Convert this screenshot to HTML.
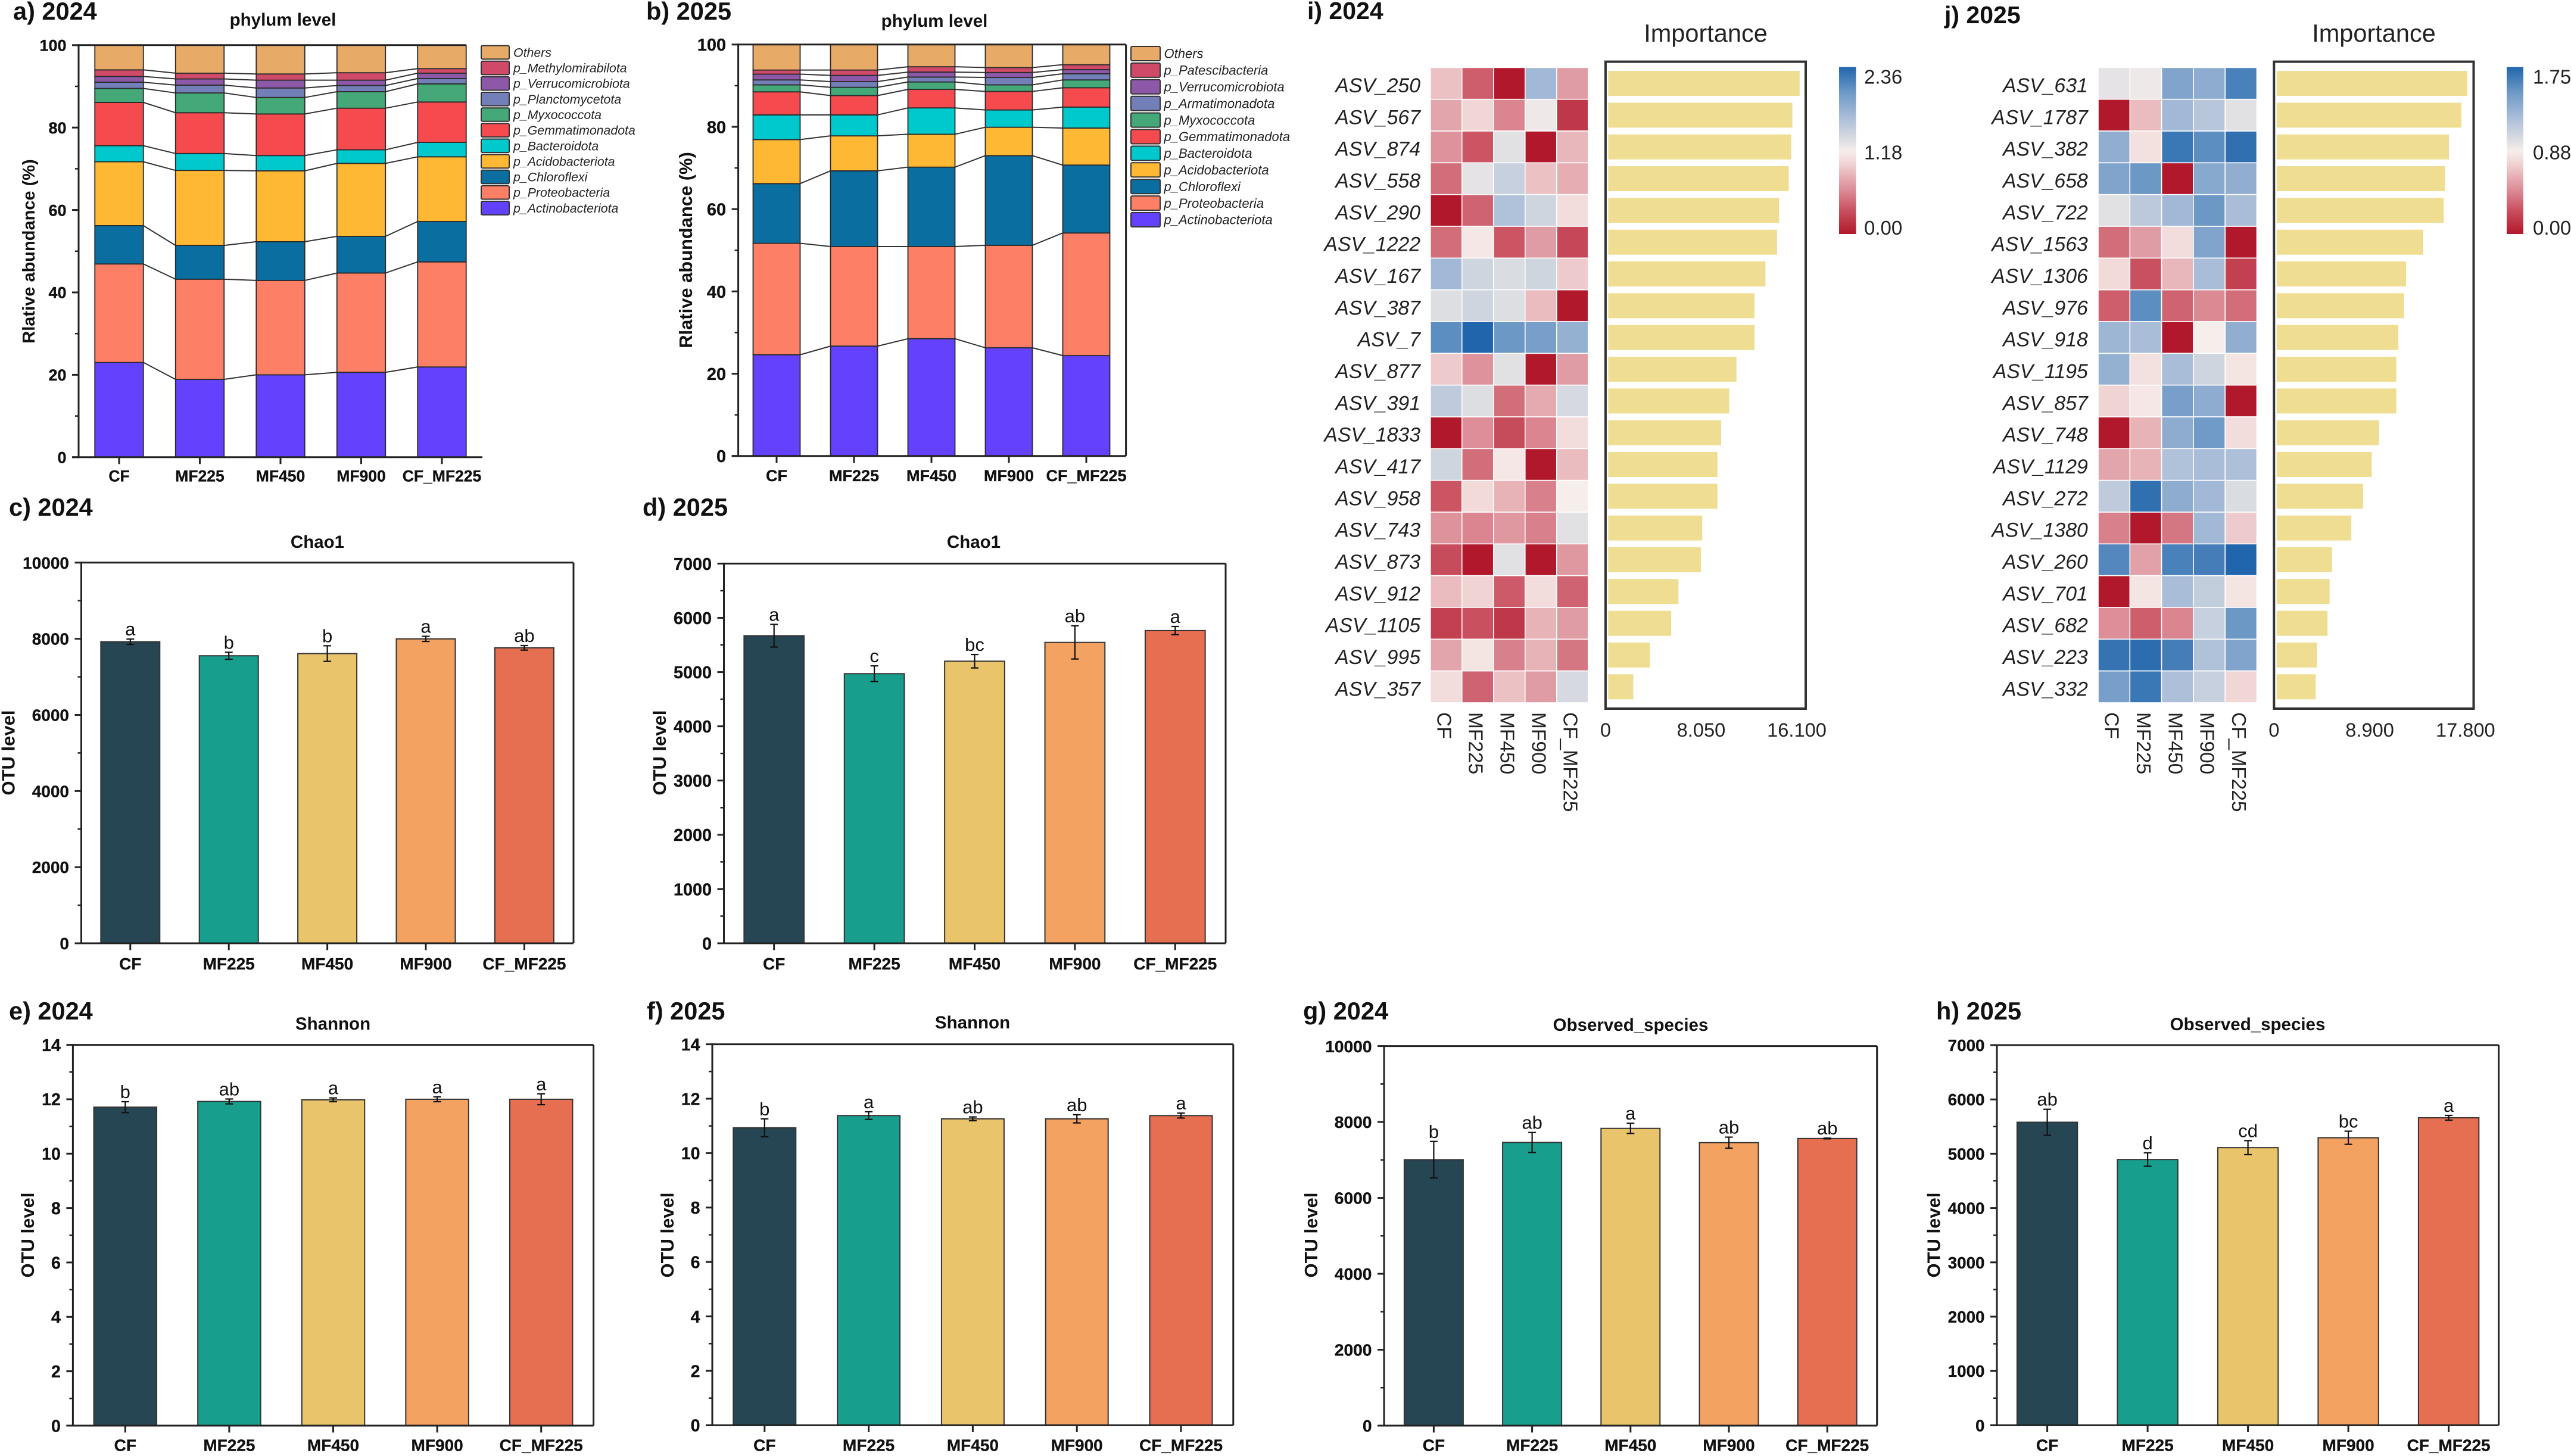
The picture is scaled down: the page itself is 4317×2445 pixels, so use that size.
<!DOCTYPE html>
<html lang="en">
<head>
<meta charset="utf-8">
<title>Soil bacterial community composition, diversity and feature importance, 2024 and 2025</title>
<style>
html,body{margin:0;padding:0;background:#fff;}
svg{display:block;font-family:"Liberation Sans",sans-serif;}
.pl{font-weight:700;font-size:41.5px;fill:#111;}
.tt{font-weight:700;font-size:29.5px;fill:#111;text-anchor:middle;}
.yl{font-weight:700;fill:#111;text-anchor:middle;}
.imp{font-size:41.5px;fill:#222;text-anchor:middle;}
</style>
</head>
<body>
<svg id="figure" width="4317" height="2445" viewBox="0 0 4317 2445" xmlns="http://www.w3.org/2000/svg">
  <rect width="4317" height="2445" fill="#fff"/>
  <text class="pl" x="22" y="33">a) 2024</text>
  <text class="pl" x="1085" y="33">b) 2025</text>
  <text class="pl" x="15" y="866">c) 2024</text>
  <text class="pl" x="1079" y="866">d) 2025</text>
  <text class="pl" x="15" y="1712">e) 2024</text>
  <text class="pl" x="1086" y="1712">f) 2025</text>
  <text class="pl" x="2188" y="1712">g) 2024</text>
  <text class="pl" x="3251" y="1712">h) 2025</text>
  <text class="pl" x="2195" y="32" style="font-size:41px">i) 2024</text>
  <text class="pl" x="3265" y="39" style="font-size:41px">j) 2025</text>

  <text class="tt" x="475" y="43">phylum level</text>
  <text class="tt" x="1569" y="45">phylum level</text>
  <text class="tt" x="533" y="920">Chao1</text>
  <text class="tt" x="1635" y="920">Chao1</text>
  <text class="tt" x="559" y="1729">Shannon</text>
  <text class="tt" x="1633" y="1727">Shannon</text>
  <text class="tt" x="2738" y="1731">Observed_species</text>
  <text class="tt" x="3774" y="1730">Observed_species</text>
  <text class="imp" x="2864" y="70">Importance</text>
  <text class="imp" x="3986" y="70">Importance</text>

  <text class="yl" transform="translate(58,422) rotate(-90)" style="font-size:29px">Rlative abundance (%)</text>
  <text class="yl" transform="translate(1162,420) rotate(-90)" style="font-size:30.9px">Rlative abundance (%)</text>
  <text class="yl" transform="translate(24.5,1264) rotate(-90)" style="font-size:31px">OTU level</text>
  <text class="yl" transform="translate(1118,1264) rotate(-90)" style="font-size:31px">OTU level</text>
  <text class="yl" transform="translate(57,2074) rotate(-90)" style="font-size:31px">OTU level</text>
  <text class="yl" transform="translate(1131,2074) rotate(-90)" style="font-size:31px">OTU level</text>
  <text class="yl" transform="translate(2212,2074) rotate(-90)" style="font-size:31px">OTU level</text>
  <text class="yl" transform="translate(3257.5,2074) rotate(-90)" style="font-size:31px">OTU level</text>
</svg>

<script>
/* ---------- shared categories ---------- */
const categories = ['CF', 'MF225', 'MF450', 'MF900', 'CF_MF225'];

/* ---------- panel a: phylum stack 2024 (%) ---------- */
const phylaA = ['p_Actinobacteriota','p_Proteobacteria','p_Chloroflexi','p_Acidobacteriota','p_Bacteroidota','p_Gemmatimonadota','p_Myxococcota','p_Planctomycetota','p_Verrucomicrobiota','p_Methylomirabilota','Others'];
const actinoA = [23.0, 18.9, 20.0, 20.6, 21.9];
const proteoA = [23.9, 24.3, 22.9, 24.1, 25.5];
const chloroA = [9.3, 8.2, 9.4, 8.9, 9.8];
const acidoA  = [15.5, 18.2, 17.2, 17.7, 15.7];
const bacterA = [3.9, 4.1, 3.7, 3.3, 3.5];
const gemmaA  = [10.5, 9.9, 10.1, 10.1, 9.8];
const myxoA   = [3.4, 4.8, 4.0, 4.0, 4.4];
const planctA = [1.5, 1.9, 2.3, 1.5, 1.3];
const verruA  = [1.4, 1.5, 1.9, 1.3, 1.3];
const methyA  = [1.6, 1.4, 1.5, 1.8, 1.1];
const othersA = [6.0, 6.8, 7.0, 6.7, 5.7];

/* ---------- panel b: phylum stack 2025 (%) ---------- */
const phylaB = ['p_Actinobacteriota','p_Proteobacteria','p_Chloroflexi','p_Acidobacteriota','p_Bacteroidota','p_Gemmatimonadota','p_Myxococcota','p_Armatimonadota','p_Verrucomicrobiota','p_Patescibacteria','Others'];
const actinoB = [24.6, 26.7, 28.5, 26.3, 24.4];
const proteoB = [27.1, 24.2, 22.4, 24.9, 29.8];
const chloroB = [14.5, 18.4, 19.3, 21.8, 16.5];
const acidoB  = [10.7, 8.5, 8.0, 6.9, 9.0];
const bacterB = [6.0, 5.1, 6.4, 4.2, 5.1];
const gemmaB  = [5.6, 4.7, 4.5, 4.5, 4.7];
const myxoB   = [1.7, 2.0, 1.8, 1.6, 1.9];
const armatB  = [1.2, 1.4, 1.2, 1.8, 1.5];
const verruB  = [1.4, 1.5, 1.2, 1.2, 1.0];
const patesB  = [1.0, 1.3, 1.3, 1.2, 1.2];
const othersB = [6.2, 6.2, 5.4, 5.6, 4.9];
const stackTicks = [0, 20, 40, 60, 80, 100];

/* ---------- panels c-h: alpha diversity bars ---------- */
const chaoATicks = [0, 2000, 4000, 6000, 8000, 10000];
const chaoAValues = [7921, 7553, 7611, 7997, 7762];
const chaoAErrors = [70, 92, 205, 67, 60];
const chaoALetters = ['a', 'b', 'b', 'a', 'ab'];

const chaoBTicks = [0, 1000, 2000, 3000, 4000, 5000, 6000, 7000];
const chaoBValues = [5670, 4970, 5200, 5547, 5765];
const chaoBErrors = [209, 144, 124, 306, 76];
const chaoBLetters = ['a', 'c', 'bc', 'ab', 'a'];

const shannonATicks = [0, 2, 4, 6, 8, 10, 12, 14];
const shannonAValues = [11.71, 11.92, 11.98, 12.0, 12.0];
const shannonAErrors = [0.2, 0.09, 0.07, 0.09, 0.2];
const shannonALetters = ['b', 'ab', 'a', 'a', 'a'];

const shannonBTicks = [0, 2, 4, 6, 8, 10, 12, 14];
const shannonBValues = [10.93, 11.38, 11.26, 11.26, 11.38];
const shannonBErrors = [0.33, 0.14, 0.07, 0.15, 0.09];
const shannonBLetters = ['b', 'a', 'ab', 'ab', 'a'];

const observedATicks = [0, 2000, 4000, 6000, 8000, 10000];
const observedAValues = [7007, 7460, 7832, 7455, 7565];
const observedAErrors = [480, 263, 134, 145, 10];
const observedALetters = ['b', 'ab', 'a', 'ab', 'ab'];

const observedBTicks = [0, 1000, 2000, 3000, 4000, 5000, 6000, 7000];
const observedBValues = [5580, 4893, 5112, 5294, 5662];
const observedBErrors = [239, 124, 129, 121, 44];
const observedBLetters = ['ab', 'd', 'cd', 'bc', 'a'];

/* ---------- panel i: heatmap + importance 2024 ---------- */
const asvI = ['ASV_250','ASV_567','ASV_874','ASV_558','ASV_290','ASV_1222','ASV_167','ASV_387','ASV_7','ASV_877','ASV_391','ASV_1833','ASV_417','ASV_958','ASV_743','ASV_873','ASV_912','ASV_1105','ASV_995','ASV_357'];
const importanceI = [16.34, 15.73, 15.63, 15.42, 14.61, 14.44, 13.46, 12.54, 12.54, 11.02, 10.41, 9.73, 9.42, 9.42, 8.14, 8.03, 6.14, 5.53, 3.73, 2.34];
const importanceTicksI = [0, 8.05, 16.1];
const importanceTickLabelsI = ['0', '8.050', '16.100'];
const colourTickLabelsI = ['0.00', '1.18', '2.36'];
/* each cell: position on the colour bar, 0 = bottom label, 1 = top label */
const heatI = [
  [.38,.17,.00,.72,.30],
  [.32,.43,.25,.52,.08],
  [.28,.15,.55,.00,.36],
  [.20,.54,.62,.38,.34],
  [.00,.18,.68,.60,.45],
  [.20,.48,.15,.30,.12],
  [.72,.60,.57,.60,.40],
  [.56,.60,.56,.37,.00],
  [.88,1.0,.85,.82,.75],
  [.40,.28,.55,.00,.30],
  [.64,.56,.20,.33,.58],
  [.00,.27,.13,.25,.45],
  [.60,.20,.48,.00,.37],
  [.15,.44,.35,.24,.50],
  [.28,.25,.29,.24,.55],
  [.13,.00,.55,.00,.29],
  [.37,.42,.16,.45,.18],
  [.10,.14,.08,.35,.30],
  [.32,.47,.24,.35,.22],
  [.45,.18,.38,.30,.58]
];

/* ---------- panel j: heatmap + importance 2025 ---------- */
const asvJ = ['ASV_631','ASV_1787','ASV_382','ASV_658','ASV_722','ASV_1563','ASV_1306','ASV_976','ASV_918','ASV_1195','ASV_857','ASV_748','ASV_1129','ASV_272','ASV_1380','ASV_260','ASV_701','ASV_682','ASV_223','ASV_332'];
const importanceJ = [17.98, 17.41, 16.27, 15.89, 15.78, 13.88, 12.28, 12.09, 11.56, 11.37, 11.37, 9.77, 9.09, 8.29, 7.19, 5.40, 5.17, 4.98, 3.99, 3.88];
const importanceTicksJ = [0, 8.9, 17.8];
const importanceTickLabelsJ = ['0', '8.900', '17.800'];
const colourTickLabelsJ = ['0.00', '0.88', '1.75'];
const heatJ = [
  [.54,.52,.80,.77,.92],
  [.00,.37,.72,.66,.55],
  [.76,.46,.95,.88,.97],
  [.80,.85,.00,.78,.76],
  [.55,.65,.72,.85,.70],
  [.20,.30,.45,.80,.00],
  [.44,.14,.36,.70,.10],
  [.17,.88,.18,.26,.20],
  [.73,.70,.00,.50,.76],
  [.75,.46,.70,.60,.47],
  [.42,.48,.82,.77,.00],
  [.00,.35,.77,.84,.45],
  [.32,.35,.68,.70,.69],
  [.64,.97,.77,.72,.57],
  [.24,.00,.22,.72,.40],
  [.90,.31,.92,.93,1.0],
  [.00,.47,.70,.63,.47],
  [.27,.17,.25,.62,.85],
  [.96,.98,.93,.68,.80],
  [.82,.95,.69,.62,.43]
];

/* ---------- styling ---------- */
const stackColours = ['#6441FC','#FD7F66','#0A6EA1','#FFB833','#00C9CE','#F64B4E','#45A878','#737FB8','#8D58A8','#CE4A68','#E8AA67'];
const barColours = ['#264653','#189E8D','#E9C46A','#F4A261','#E76F51'];
const heatStops = [[0,'#B2182B'],[.14,'#C9505F'],[.25,'#DA8590'],[.42,'#F0D3D3'],[.5,'#F6EEEB'],[.56,'#DDDEE2'],[.7,'#A9BDD8'],[.85,'#6C98C6'],[1,'#2166AC']];

const NS = 'http://www.w3.org/2000/svg';
const figure = document.getElementById('figure');

function node(tag, attrs, parent) {
  const el = document.createElementNS(NS, tag);
  for (const k in attrs) el.setAttribute(k, attrs[k]);
  (parent || figure).appendChild(el);
  return el;
}
function label(parent, name, str, x, y, size, opts) {
  const o = opts || {};
  const el = node('text', {
    x: x, y: y,
    'font-size': size,
    'font-weight': o.weight || 400,
    'font-style': o.italic ? 'italic' : 'normal',
    'text-anchor': o.anchor || 'middle',
    fill: o.fill || '#111'
  }, parent);
  if (o.transform) el.setAttribute('transform', o.transform);
  if (o.weight === 700) {
    el.setAttribute('stroke', '#111');
    el.setAttribute('stroke-width', '0.35');
  }
  
  
  el.textContent = str;
  return el;
}
function line(parent, name, x1, y1, x2, y2, width, colour) {
  const el = node('line', {x1: x1, y1: y1, x2: x2, y2: y2, stroke: colour || '#222', 'stroke-width': width || 3}, parent);
  
  
  return el;
}
function group(name) {
  const g = node('g', {});
  
  
  return g;
}
function linear(d0, d1, r0, r1) {
  return v => r0 + (v - d0) / (d1 - d0) * (r1 - r0);
}
function hexToRgb(h) {
  return [1, 3, 5].map(i => parseInt(h.substr(i, 2), 16));
}
function heatColour(t) {
  const v = Math.max(0, Math.min(1, t));
  for (let i = 1; i < heatStops.length; i++) {
    if (v <= heatStops[i][0]) {
      const a = heatStops[i - 1], b = heatStops[i];
      const f = (v - a[0]) / (b[0] - a[0]);
      const ca = hexToRgb(a[1]), cb = hexToRgb(b[1]);
      return 'rgb(' + ca.map((c, j) => Math.round(c + (cb[j] - c) * f)).join(',') + ')';
    }
  }
  return heatStops[heatStops.length - 1][1];
}

/* axes shared by the stack and bar panels */
function drawAxes(g, L, ticks, y) {
  const id = L.id;
  ticks.forEach((t, i) => {
    const py = y(t);
    line(g, 'y-tick-' + id + '-' + t, L.left - 11, py, L.left, py, 3);
    label(g, 'y-tick-label-' + id + '-' + t, String(t), L.left - 20.5, py + L.tickSize * 0.36, L.tickSize, {weight: 700, anchor: 'end'});
    if (i < ticks.length - 1) {
      const my = y((t + ticks[i + 1]) / 2);
      line(g, 'y-minor-tick-' + id + '-' + i, L.left - 6, my, L.left, my, 2.5);
    }
  });
  categories.forEach((c, i) => {
    const cx = L.c0 + i * L.step;
    line(g, 'x-tick-' + id + '-' + c, cx, L.bottom, cx, L.bottom + 11.5, 3);
    label(g, 'x-tick-label-' + id + '-' + c, c, cx, L.labelY, L.xSize, {weight: 700});
  });
  line(g, 'y-axis-' + id, L.left, L.top - 1.5, L.left, L.bottom + 1.5, 3);
  line(g, 'x-axis-' + id, L.left - 11, L.bottom, L.right, L.bottom, 3);
  line(g, 'top-border-' + id, L.left, L.top, L.topEnd || L.right, L.top, 3);
  if (!L.noRight) line(g, 'right-border-' + id, L.right, L.top, L.right, L.bottom, 3);
}

function drawStack(L, names, series) {
  const g = group('stacked-chart-' + L.id);
  const y = linear(0, 100, L.bottom, L.top);
  const cum = categories.map(() => 0);
  series.forEach((vals, s) => {
    const tops = [];
    vals.forEach((v, i) => {
      const y0 = y(cum[i]);
      cum[i] += v;
      const y1 = y(cum[i]);
      tops.push(y1);
      const x = L.c0 + i * L.step - L.barW / 2;
      const r = node('rect', {x: x, y: y1, width: L.barW, height: y0 - y1, fill: stackColours[s], stroke: '#2a2a2a', 'stroke-width': 1.8}, g);
      
      
    });
    if (s < series.length - 1) {
      for (let i = 0; i < tops.length - 1; i++) {
        const xa = L.c0 + i * L.step + L.barW / 2;
        const xb = L.c0 + (i + 1) * L.step - L.barW / 2;
        line(g, 'connector-' + L.id + '-' + names[s] + '-' + i, xa, tops[i], xb, tops[i + 1], 2, '#333');
      }
    }
  });
  drawAxes(g, L, stackTicks, y);
  const leg = node('g', {}, g);
  
  
  for (let s = names.length - 1, row = 0; s >= 0; s--, row++) {
    const cy = L.legY + row * L.legStep;
    const sw = node('rect', {x: L.legX, y: cy - L.legH / 2, width: L.legW, height: L.legH, rx: 2, fill: stackColours[s], stroke: '#333', 'stroke-width': 2}, leg);
    
    
    label(leg, 'legend-entry-' + names[s], names[s], L.legTextX, cy + L.legSize * 0.35, L.legSize, {italic: true, anchor: 'start', fill: '#222'});
  }
}

function drawBars(L, ticks, values, errors, letters) {
  const g = group('bar-chart-' + L.id);
  const y = linear(0, ticks[ticks.length - 1], L.bottom, L.top);
  values.forEach((v, i) => {
    const cx = L.c0 + i * L.step;
    const r = node('rect', {x: cx - L.barW / 2, y: y(v), width: L.barW, height: L.bottom - y(v), fill: barColours[i], stroke: '#333', 'stroke-width': 2}, g);
    
    
    const hi = y(v + errors[i]), lo = y(v - errors[i]);
    line(g, 'error-bar-' + L.id + '-' + categories[i], cx, hi, cx, lo, 2.2, '#111');
    line(g, 'error-cap-top-' + L.id + '-' + categories[i], cx - 6.5, hi, cx + 6.5, hi, 2.2, '#111');
    line(g, 'error-cap-bottom-' + L.id + '-' + categories[i], cx - 6.5, lo, cx + 6.5, lo, 2.2, '#111');
    label(g, 'significance-letter-' + L.id + '-' + categories[i], letters[i], cx, hi - 6, 31);
  });
  drawAxes(g, L, ticks, y);
}

function drawHeat(L, rows, matrix, importance, impTicks, impTickLabels, colourLabels) {
  const g = group('heatmap-panel-' + L.id);
  const cw = (L.heatRight - L.heatLeft) / categories.length;
  const rh = (L.heatBottom - L.heatTop) / rows.length;
  const xImp = linear(0, impTicks[impTicks.length - 1], L.impX0, L.impX1);
  rows.forEach((asv, r) => {
    const cy = L.heatTop + (r + 0.5) * rh;
    label(g, 'row-label-' + asv, asv, L.rowLabelX, cy + 15, 33.8, {italic: true, anchor: 'end', fill: '#222'});
    matrix[r].forEach((v, c) => {
      const cell = node('rect', {x: L.heatLeft + c * cw, y: L.heatTop + r * rh, width: cw, height: rh, fill: heatColour(v), stroke: '#fff', 'stroke-width': 1.6}, g);
      
      
    });
    const bar = node('rect', {x: L.impX0 + 4.5, y: cy - 21, width: xImp(importance[r]) - L.impX0 - 4.5, height: 42, fill: '#EFDD92'}, g);
    
    
  });
  categories.forEach((c, i) => {
    const cx = L.heatLeft + (i + 0.5) * cw - 4;
    label(g, 'column-label-' + L.id + '-' + c, c, 0, 0, 33.5, {anchor: 'start', fill: '#222', transform: 'translate(' + (cx - 11) + ',1196) rotate(90)'});
  });
  const frame = node('rect', {x: L.impX0, y: 103.6, width: L.frameRight - L.impX0, height: 1086.4, fill: 'none', stroke: '#333', 'stroke-width': 4}, g);
  
  
  impTicks.forEach((t, i) => {
    label(g, 'importance-tick-label-' + L.id + '-' + i, impTickLabels[i], xImp(t), 1237, 32.6, {fill: '#222'});
  });
  /* colour bar */
  const defs = node('defs', {}, g);
  const grad = node('linearGradient', {id: 'cbar-' + L.id, x1: 0, y1: 1, x2: 0, y2: 0}, defs);
  heatStops.forEach(s => node('stop', {offset: s[0], 'stop-color': s[1]}, grad));
  const cb = node('rect', {x: L.cbX, y: 112.5, width: L.cbW, height: 280.5, fill: 'url(#cbar-' + L.id + ')'}, g);
  
  
  const yCb = linear(0, colourLabels.length - 1, 382, 128.6);
  colourLabels.forEach((t, i) => {
    label(g, 'colour-bar-label-' + L.id + '-' + t, t, L.cbLabelX, yCb(i) + 12, 33, {anchor: 'start', fill: '#222'});
  });
}

/* ---------- layouts (pixel geometry only) ---------- */
const layoutA = {id:'a', left:132, right:810, top:75.8, bottom:767.8, topEnd:782, noRight:true, c0:200, step:135.5, barW:81.5, tickSize:27, xSize:26.5, labelY:808.5, legX:808, legW:47, legH:22.6, legY:87.9, legStep:26.15, legTextX:862, legSize:21.3};
const layoutB = {id:'b', left:1239.6, right:1890.6, top:74.8, bottom:765.7, c0:1304, step:130, barW:79, tickSize:29, xSize:27, labelY:808, legX:1899, legW:49, legH:24, legY:90, legStep:27.9, legTextX:1954.5, legSize:22};
const layoutC = {id:'c', left:136.5, right:963, top:944.8, bottom:1584, c0:218.8, step:165.4, barW:99, tickSize:28, xSize:28, labelY:1628};
const layoutD = {id:'d', left:1215.5, right:2058, top:946.4, bottom:1584, c0:1299.7, step:168.4, barW:100.7, tickSize:28.8, xSize:28, labelY:1628};
const layoutE = {id:'e', left:122.4, right:996.6, top:1754.6, bottom:2394, c0:210.3, step:174.6, barW:105.5, tickSize:28.6, xSize:28, labelY:2436.5};
const layoutF = {id:'f', left:1196, right:2070.8, top:1753.6, bottom:2393.4, c0:1283.8, step:174.8, barW:105, tickSize:28.6, xSize:28, labelY:2436.5};
const layoutG = {id:'g', left:2324, right:3151.7, top:1756.6, bottom:2394, c0:2407.4, step:165.2, barW:99, tickSize:28.2, xSize:28, labelY:2436.5};
const layoutH = {id:'h', left:3353, right:4195.6, top:1755, bottom:2393.4, c0:3437.6, step:168.5, barW:101.4, tickSize:27.8, xSize:28, labelY:2436.5};
const layoutI = {id:'i', heatLeft:2401.8, heatRight:2666.8, heatTop:113.4, heatBottom:1180, rowLabelX:2385, impX0:2695.9, impX1:3017, frameRight:3032, cbX:3088, cbW:28.5, cbLabelX:3130};
const layoutJ = {id:'j', heatLeft:3523, heatRight:3789.5, heatTop:113.4, heatBottom:1180, rowLabelX:3505.8, impX0:3818.3, impX1:4139.8, frameRight:4153.5, cbX:4209, cbW:28, cbLabelX:4253};

/* ---------- draw ---------- */
drawStack(layoutA, phylaA, [actinoA, proteoA, chloroA, acidoA, bacterA, gemmaA, myxoA, planctA, verruA, methyA, othersA]);
drawStack(layoutB, phylaB, [actinoB, proteoB, chloroB, acidoB, bacterB, gemmaB, myxoB, armatB, verruB, patesB, othersB]);
drawBars(layoutC, chaoATicks, chaoAValues, chaoAErrors, chaoALetters);
drawBars(layoutD, chaoBTicks, chaoBValues, chaoBErrors, chaoBLetters);
drawBars(layoutE, shannonATicks, shannonAValues, shannonAErrors, shannonALetters);
drawBars(layoutF, shannonBTicks, shannonBValues, shannonBErrors, shannonBLetters);
drawBars(layoutG, observedATicks, observedAValues, observedAErrors, observedALetters);
drawBars(layoutH, observedBTicks, observedBValues, observedBErrors, observedBLetters);
drawHeat(layoutI, asvI, heatI, importanceI, importanceTicksI, importanceTickLabelsI, colourTickLabelsI);
drawHeat(layoutJ, asvJ, heatJ, importanceJ, importanceTicksJ, importanceTickLabelsJ, colourTickLabelsJ);
</script>
</body>
</html>
